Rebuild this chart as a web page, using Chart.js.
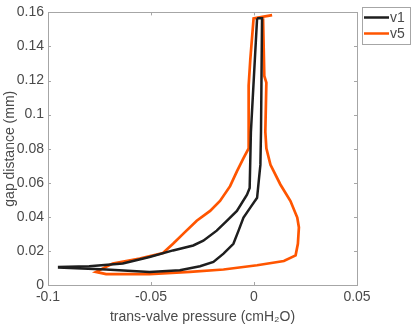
<!DOCTYPE html>
<html>
<head>
<meta charset="utf-8">
<script src="https://cdn.jsdelivr.net/npm/chart.js@4/dist/chart.umd.min.js"></script>
<style>
  html, body { margin: 0; padding: 0; background: #fff; }
  #wrap { width: 415px; height: 331px; position: relative; }
</style>
</head>
<body>
<div id="wrap"><canvas id="gapChart"></canvas></div>
<script>
// donnees
const seriesNames = ['v1', 'v5'];
const seriesColors = ['#1e1e1e', '#ff5500'];

// v1 : pression (x) et distance (y), parcours de la boucle
const v1Pressure = [0.0015, -0.0015, -0.0021, -0.0034, -0.0083, -0.0132, -0.0181, -0.0246, -0.0295,
  -0.0393, -0.0507, -0.0637, -0.0800, -0.0946, -0.0946, -0.0718, -0.0507, -0.0360, -0.0262, -0.0197, -0.0148,
  -0.0100, -0.0075, -0.0051, -0.0018, 0.0015, 0.0023, 0.0031, 0.0034, 0.0039, 0.0015];
const v1Gap = [0.1565, 0.0899, 0.0570, 0.0530, 0.0435, 0.0377, 0.0319, 0.0260, 0.0232,
  0.0203, 0.0164, 0.0126, 0.0110, 0.0106, 0.0102, 0.0091, 0.0077, 0.0087, 0.0110, 0.0135, 0.0184,
  0.0242, 0.0319, 0.0396, 0.0454, 0.0512, 0.0609, 0.0705, 0.0899, 0.1565, 0.1565];

// v5
const v5Pressure = [0.0088, -0.0002, -0.0018, -0.0026, -0.0026, -0.0026, -0.0051, -0.0083, -0.0116, -0.0165,
  -0.0213, -0.0278, -0.0344, -0.0393, -0.0442, -0.0555, -0.0686, -0.0767, -0.0718, -0.0507, -0.0311, -0.0148,
  0.0015, 0.0145, 0.0202, 0.0213, 0.0218, 0.0210, 0.0177, 0.0128, 0.0080, 0.0060, 0.0055, 0.0060, 0.0050, 0.0044];
const v5Gap = [0.1584, 0.1565, 0.1323, 0.1170, 0.0840, 0.0802, 0.0744, 0.0667, 0.0580, 0.0493,
  0.0435, 0.0377, 0.0300, 0.0242, 0.0188, 0.0155, 0.0126, 0.0077, 0.0064, 0.0064, 0.0077, 0.0091,
  0.0116, 0.0141, 0.0174, 0.0242, 0.0338, 0.0396, 0.0493, 0.0590, 0.0705, 0.0802, 0.0899, 0.1188, 0.1227, 0.1565];

const xTicks = [-0.1, -0.05, 0, 0.05];
const yTicks = [0, 0.02, 0.04, 0.06, 0.08, 0.1, 0.12, 0.14, 0.16];

function toPoints(xs, ys) {
    return xs.map((x, i) => ({ x: x, y: ys[i] }));
}

const textColor = '#4a4a4a';
const boxColor = '#a6a6a6';
const fontFamily = 'Arial, "Liberation Sans", Helvetica, sans-serif';

// cadre + graduations vers l'interieur (style matlab)
const boxPlugin = {
    id: 'boxPlugin',
    afterDatasetsDraw(chart) {
        const { ctx, chartArea: a, scales } = chart;
        ctx.save();
        ctx.strokeStyle = boxColor;
        ctx.lineWidth = 1;
        ctx.strokeRect(Math.round(a.left) + 0.5, Math.round(a.top) + 0.5,
            Math.round(a.right - a.left), Math.round(a.bottom - a.top));
        const t = 3;
        ctx.beginPath();
        xTicks.forEach(v => {
            const px = Math.round(scales.x.getPixelForValue(v)) + 0.5;
            ctx.moveTo(px, a.bottom); ctx.lineTo(px, a.bottom - t);
            ctx.moveTo(px, a.top); ctx.lineTo(px, a.top + t);
        });
        yTicks.forEach(v => {
            const py = Math.round(scales.y.getPixelForValue(v)) + 0.5;
            ctx.moveTo(a.left, py); ctx.lineTo(a.left + t, py);
            ctx.moveTo(a.right, py); ctx.lineTo(a.right - t, py);
        });
        ctx.stroke();
        ctx.restore();
    }
};

// legende encadree en haut a droite
const legendPlugin = {
    id: 'boxLegend',
    afterDraw(chart) {
        const ctx = chart.ctx;
        const x0 = 362, y0 = 7, w = 48, h = 37;
        ctx.save();
        ctx.fillStyle = '#fff';
        ctx.fillRect(x0, y0, w, h);
        ctx.strokeStyle = boxColor;
        ctx.lineWidth = 1;
        ctx.strokeRect(x0 + 0.5, y0 + 0.5, w, h);
        ctx.font = '14px ' + fontFamily;
        ctx.textBaseline = 'middle';
        chart.data.datasets.forEach((ds, i) => {
            const yy = y0 + 10.5 + i * 16;
            ctx.strokeStyle = ds.borderColor;
            ctx.lineWidth = 2.5;
            ctx.beginPath();
            ctx.moveTo(x0 + 2, yy); ctx.lineTo(x0 + 27, yy);
            ctx.stroke();
            ctx.fillStyle = textColor;
            ctx.fillText(ds.label, x0 + 28, yy + 1);
        });
        ctx.restore();
    }
};

function createGapChart() {
    const ctx = document.getElementById('gapChart').getContext('2d');
    const gapChart = new Chart(ctx, {
        type: 'scatter',
        data: {
            datasets: [
                {
                    label: seriesNames[0],
                    data: toPoints(v1Pressure, v1Gap),
                    showLine: true,
                    borderColor: seriesColors[0],
                    borderWidth: 2.5,
                    pointRadius: 0,
                    tension: 0
                },
                {
                    label: seriesNames[1],
                    data: toPoints(v5Pressure, v5Gap),
                    showLine: true,
                    borderColor: seriesColors[1],
                    borderWidth: 2.7,
                    pointRadius: 0,
                    tension: 0
                }
            ]
        },
        options: {
            responsive: true,
            maintainAspectRatio: false,
            animation: false,
            layout: { padding: { top: 10, right: 58, left: 0, bottom: 0 } },
            plugins: {
                legend: { display: false },
                tooltip: { enabled: false }
            },
            scales: {
                x: {
                    type: 'linear',
                    min: -0.1,
                    max: 0.05,
                    afterBuildTicks: s => { s.ticks = xTicks.map(v => ({ value: v })); },
                    afterFit: s => { s.height = 46; },
                    grid: { display: false, drawTicks: false },
                    border: { display: false },
                    ticks: {
                        color: textColor,
                        font: { size: 14, family: fontFamily },
                        padding: 4,
                        maxRotation: 0,
                        callback: v => String(v)
                    },
                    title: {
                        display: true,
                        text: 'trans-valve pressure (cmH\u2082O)',
                        color: textColor,
                        font: { size: 14, family: fontFamily },
                        padding: { top: 0, bottom: 5 }
                    }
                },
                y: {
                    type: 'linear',
                    min: 0,
                    max: 0.16,
                    afterBuildTicks: s => { s.ticks = yTicks.map(v => ({ value: v })); },
                    afterFit: s => { s.width = 48; },
                    grid: { display: false, drawTicks: false },
                    border: { display: false },
                    ticks: {
                        color: textColor,
                        font: { size: 14, family: fontFamily },
                        padding: 4,
                        callback: v => String(v)
                    },
                    title: {
                        display: true,
                        text: 'gap distance (mm)',
                        color: textColor,
                        font: { size: 14, family: fontFamily },
                        padding: { top: 2, bottom: 0 }
                    }
                }
            }
        },
        plugins: [boxPlugin, legendPlugin]
    });
}

window.onload = function() {
    createGapChart();
};
</script>
</body>
</html>
